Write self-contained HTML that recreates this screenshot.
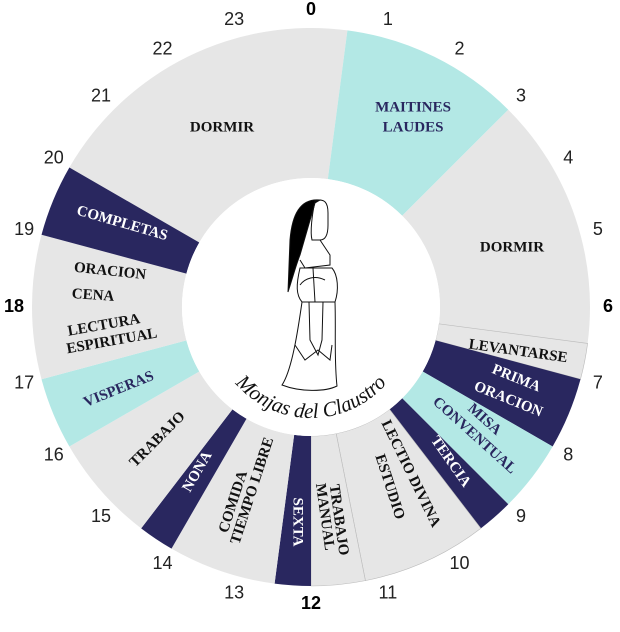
<!DOCTYPE html>
<html><head><meta charset="utf-8"><style>
html,body{margin:0;padding:0;background:#fff;width:620px;height:632px;overflow:hidden}
svg{display:block}
.l{font-family:"Liberation Serif",serif;font-weight:bold;font-size:15px;text-anchor:middle;dominant-baseline:middle}
.h{font-family:"Liberation Sans",sans-serif;font-size:18px;fill:#222;text-anchor:middle;dominant-baseline:middle}
.hb{font-weight:bold;fill:#000}
</style></head><body>
<svg id="s" width="620" height="632" viewBox="0 0 620 632" xmlns="http://www.w3.org/2000/svg">
<g id="segs"></g>
<g id="hrs"></g>
<circle cx="311" cy="307" r="129" fill="#fff"/>
<g fill="none" stroke="#111" stroke-width="1">
<path d="M320 200 C300 198 292 215 290 240 L288 292 C292 280 296 265 300 255 L315 203 Z" fill="#000"/>
<path d="M315 201 C325 198 328 203 328 213 L328 225 C328 235 325 240 320 240 L312 240 C310 232 312 215 315 201 Z"/>
<path d="M320 240 L330 255 L330 265 L305 268 L300 260"/>
<path d="M300 268 C296 285 296 295 302 302 L335 302 C339 290 338 275 332 268 Z"/>
<path d="M313 268 L315 302 M300 285 C305 278 315 275 325 280"/>
<path d="M302 302 C298 330 292 370 282 385 C300 392 325 392 337 386 C334 360 336 330 335 302"/>
<path d="M309 302 L310 340 L318 355 L322 340 L323 302"/>
<path d="M295 345 L305 360 L318 350 L330 360 L332 345"/>
</g>
<path id="arc" d="M 211 318 A 100 100 0 0 0 411 318" fill="none"/>
<text font-family="Liberation Serif,serif" font-style="italic" font-size="21" fill="#111"><textPath href="#arc" startOffset="50%" text-anchor="middle">Monjas del Claustro</textPath></text>
<g id="lbl"></g>
</svg>
<script>
var cx=311,cy=307,R=279,r=129,NS="http://www.w3.org/2000/svg";
function pt(a,rad){var t=a*Math.PI/180;return [cx+rad*Math.sin(t),cy-rad*Math.cos(t)];}
function seg(h1,h2,c,stroke){var a1=h1*15,a2=h2*15;var p1=pt(a1,R),p2=pt(a2,R),p3=pt(a2,r),p4=pt(a1,r);var lg=(a2-a1)>180?1:0;
var d="M"+p1+" A"+R+" "+R+" 0 "+lg+" 1 "+p2+" L"+p3+" A"+r+" "+r+" 0 "+lg+" 0 "+p4+"Z";
var e=document.createElementNS(NS,"path");e.setAttribute("d",d);e.setAttribute("fill",c);if(stroke){e.setAttribute("stroke",stroke);e.setAttribute("stroke-width","0.6");}document.getElementById("segs").appendChild(e);}
var G="#e6e6e6",T="#b3e8e5",N="#29275f";
seg(20,24.5,G);seg(0.5,3,T);seg(3,6.5,G);seg(6.5,7,G,"#bbb");seg(7,8,N);seg(8,9,T);seg(9,9.5,N);seg(9.5,11.25,G,"#bbb");seg(11.25,12,G,"#bbb");seg(12,12.5,N);seg(12.5,14,G);seg(14,14.5,N);seg(14.5,16,G);seg(16,17,T);seg(17,19,G);seg(19,20,N);
for(var h=0;h<24;h++){var p=pt(h*15,297);var t=document.createElementNS(NS,"text");t.setAttribute("x",p[0]);t.setAttribute("y",p[1]);t.setAttribute("class",h%6==0?"h hb":"h");t.textContent=h;document.getElementById("hrs").appendChild(t);}
var L=[["DORMIR",222,128,0,"#111"],["MAITINES",413,108,0,N],["LAUDES",413,128,0,N],["DORMIR",512,248,0,"#111"],
["LEVANTARSE",518,352,8,"#111"],["PRIMA",516,379,22,"#fff"],["ORACION",508,400,22,"#fff"],
["MISA",484,420,42,N],["CONVENTUAL",474,436,42,N],["TERCIA",450,462,55,"#fff"],
["LECTIO DIVINA",410,474,64,"#111"],["ESTUDIO",389,487,72,"#111"],
["TRABAJO",338,520,82,"#111"],["MANUAL",324,517,82,"#111"],["SEXTA",297,522,90,"#fff"],
["COMIDA",234,502,-72,"#111"],["TIEMPO LIBRE",253,491,-72,"#111"],["NONA",198,472,-60,"#fff"],
["TRABAJO",158,440,-45,"#111"],["VISPERAS",119,390,-22,N],
["LECTURA",104,326,-10,"#111"],["ESPIRITUAL",112,342,-10,"#111"],["CENA",93,296,4,"#111"],["ORACION",110,272,6,"#111"],["COMPLETAS",122,224,16,"#fff"]];
L.forEach(function(a){var t=document.createElementNS(NS,"text");t.setAttribute("x",a[1]);t.setAttribute("y",a[2]);t.setAttribute("class","l");t.setAttribute("fill",a[4]);t.setAttribute("transform","rotate("+a[3]+" "+a[1]+" "+a[2]+")");t.textContent=a[0];document.getElementById("lbl").appendChild(t);});
</script>
</body></html>
